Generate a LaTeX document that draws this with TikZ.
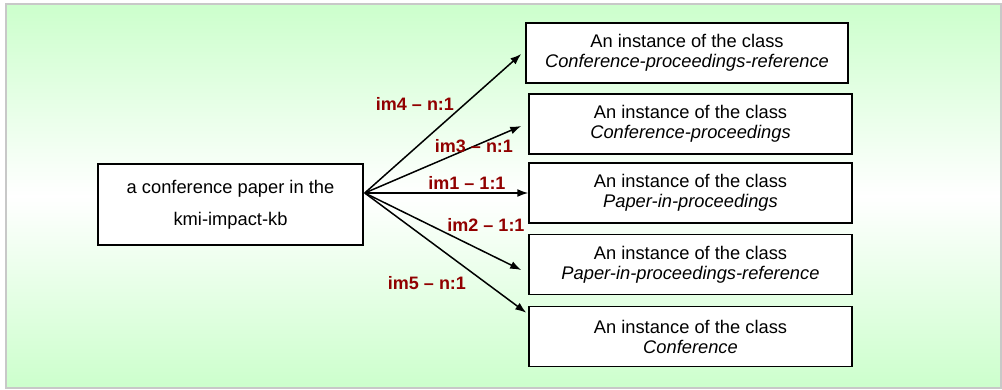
\documentclass[tikz,border=0pt]{standalone}
\usepackage{fontspec}
\setmainfont{Liberation Sans}
\usetikzlibrary{arrows.meta,calc}
\definecolor{bgreen}{RGB}{204,255,204}
\definecolor{lblred}{RGB}{145,0,0}
\definecolor{framegray}{RGB}{200,200,200}
\begin{document}
\begin{tikzpicture}[x=1pt,y=-1pt,
  classbox/.style={draw=black,line width=1.5pt,fill=white,minimum width=323pt,minimum height=60pt,
    align=center,inner sep=0pt,font=\fontsize{18.3}{20}\selectfont},
  srcbox/.style={draw=black,line width=1.5pt,fill=white,minimum width=265pt,minimum height=81pt,
    align=center,inner sep=0pt,font=\fontsize{18.3}{32}\selectfont},
  lbl/.style={text=lblred,font=\fontsize{18}{20}\selectfont\bfseries,inner sep=0pt},
  link/.style={line width=1.5pt,-{Latex[length=11pt,width=8pt]}}]
\useasboundingbox (0,0) rectangle (1002,390);
\shade[top color=bgreen,bottom color=bgreen,middle color=white] (6,4) rectangle (1001,388);
\draw[framegray,line width=2pt] (6,4) rectangle (1001,388);

\node[srcbox] (L) at (230.5,204.5) {\raisebox{4pt}{\parbox{250pt}{\centering a conference paper in the\\ kmi-impact-kb}}};

\node[classbox,minimum width=322pt] (B1) at (687,53) {An instance of the class\\ \textit{Conference-proceedings-reference}};
\node[classbox] (B2) at (690.5,124) {An instance of the class\\ \textit{Conference-proceedings}};
\node[classbox] (B3) at (690.5,193) {An instance of the class\\ \textit{Paper-in-proceedings}};
\node[classbox] (B4) at (690.5,264.5) {An instance of the class\\ \textit{Paper-in-proceedings-reference}};
\node[classbox] (B5) at (690.5,336.5) {An instance of the class\\ \textit{Conference}};

\coordinate (o) at ($(L.east)+(1,-11.5)$);
\coordinate (e1) at ($(B1.west)+(-4,1)$);
\coordinate (e2) at ($(B2.west)+(-7,2)$);
\coordinate (e3) at ($(B3.west)+(0,0)$);
\coordinate (e4) at ($(B4.west)+(-7,5.5)$);
\coordinate (e5) at ($(B5.north west)+(-2,7)$);

\draw[link] (o) -- (e1);
\draw[link] (o) -- (e2);
\draw[link] (o) -- (e3);
\draw[link] (o) -- (e4);
\draw[link] (o) -- (e5);

\node[lbl] (l4) at (415,104) {im4 – n:1};
\node[lbl] (l3) at (474,146) {im3 – n:1};
\node[lbl] (l1) at (467,183) {im1 – 1:1};
\node[lbl] (l2) at (486,225) {im2 – 1:1};
\node[lbl] (l5) at (427,283) {im5 – n:1};
\end{tikzpicture}
\end{document}
